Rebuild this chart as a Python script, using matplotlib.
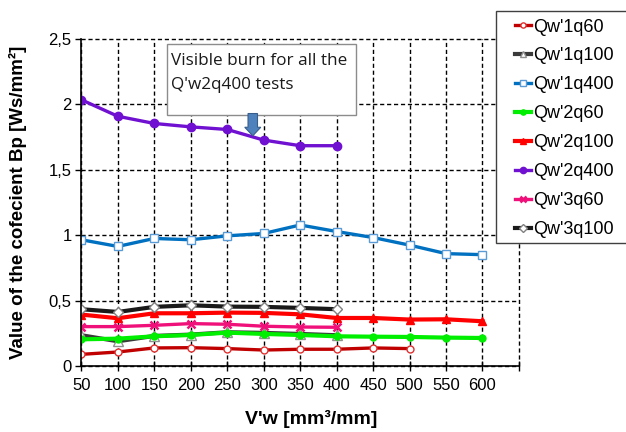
# plot.py
# coefficient Bp vs specific material removal V'w, recreated with matplotlib

from matplotlib import pyplot as plt
from matplotlib.patches import Rectangle, FancyArrow

plt.rcParams['font.family'] = ['Liberation Sans', 'DejaVu Sans']

### data
vw = [50, 100, 150, 200, 250, 300, 350, 400, 450, 500, 550, 600]

qw1q60 = [0.089, 0.107, 0.138, 0.140, 0.133, 0.122, 0.128, 0.128, 0.138, 0.133]
qw1q100 = [0.235, 0.189, 0.230, 0.240, 0.258, 0.253, 0.245, 0.235]
qw1q400 = [0.965, 0.914, 0.975, 0.965, 0.995, 1.013, 1.078, 1.028, 0.982, 0.924, 0.859, 0.851]
qw2q60 = [0.204, 0.209, 0.227, 0.237, 0.255, 0.245, 0.237, 0.227, 0.224, 0.222, 0.217, 0.214]
qw2q100 = [0.393, 0.365, 0.403, 0.403, 0.408, 0.406, 0.395, 0.367, 0.367, 0.355, 0.357, 0.342]
qw2q400 = [2.035, 1.909, 1.854, 1.828, 1.808, 1.727, 1.684, 1.684]
qw3q60 = [0.301, 0.301, 0.311, 0.324, 0.319, 0.304, 0.298, 0.296]
qw3q100 = [0.434, 0.413, 0.452, 0.464, 0.454, 0.452, 0.444, 0.434]

x_ticks = [50, 100, 150, 200, 250, 300, 350, 400, 450, 500, 550, 600, 650]
x_tick_labels = ["50", "100", "150", "200", "250", "300", "350", "400", "450", "500", "550", "600", ""]
y_ticks = [0, 0.5, 1, 1.5, 2, 2.5]
y_tick_labels = ["0", "0,5", "1", "1,5", "2", "2,5"]

note = "Visible burn for all the\nQ'w2q400 tests"

### figure
fig = plt.figure(figsize=(6.26, 4.32), dpi=100)
ax = fig.add_axes([0.130, 0.1528, 0.699, 0.757])

lw = 2.4
ax.plot(vw[:len(qw1q60)], qw1q60, color="#C00000", lw=lw, marker="o", ms=5,
        mfc="white", mec="#E03030", mew=1.0, label="Qw'1q60")
ax.plot(vw[:len(qw1q100)], qw1q100, color="#3A3A3A", lw=lw + 0.6, marker="^", ms=6.5,
        mfc="white", mec="#909090", mew=1.0, label="Qw'1q100")
ax.plot(vw[:len(qw1q400)], qw1q400, color="#0070C0", lw=lw, marker="s", ms=5.5,
        mfc="white", mec="#5B9BD5", mew=1.0, label="Qw'1q400")
ax.plot(vw[:len(qw2q60)], qw2q60, color="#00EE00", lw=lw + 0.6, marker="o", ms=5,
        mfc="#00EE00", mec="#00EE00", label="Qw'2q60")
ax.plot(vw[:len(qw2q100)], qw2q100, color="#FF0000", lw=lw + 0.6, marker="^", ms=5.5,
        mfc="#FF0000", mec="#FF0000", label="Qw'2q100")
ax.plot(vw[:len(qw2q400)], qw2q400, color="#7010D0", lw=lw, marker="o", ms=6,
        mfc="#7010D0", mec="#7010D0", label="Qw'2q400")
ax.plot(vw[:len(qw3q60)], qw3q60, color="#F0107A", lw=lw, marker="x", ms=6,
        mec="#F0107A", mew=1.8, label="Qw'3q60")
ax.plot(vw[:len(qw3q100)], qw3q100, color="#1A1A1A", lw=lw + 0.6, marker="D", ms=5,
        mfc="white", mec="#808080", mew=1.0, label="Qw'3q100")

# axes styling
ax.set_xlim(50, 650)
ax.set_ylim(0, 2.5)
ax.set_xticks(x_ticks)
ax.set_xticklabels(x_tick_labels)
ax.set_yticks(y_ticks)
ax.set_yticklabels(y_tick_labels)
ax.tick_params(axis="x", direction="inout", length=7, width=1, labelsize=12, pad=5)
ax.tick_params(axis="y", direction="out", length=4, width=1, labelsize=12, pad=3)
ax.grid(True, color="black", linestyle=(0, (3, 2)), lw=1.0)
ax.set_axisbelow(True)
# grid lines at the plot edges (650 and 2,5) should not be cut in half
for gl in ax.get_xgridlines() + ax.get_ygridlines():
    gl.set_clip_on(False)
for side in ["top", "right"]:
    ax.spines[side].set_visible(False)
for side in ["left", "bottom"]:
    ax.spines[side].set_linewidth(1.2)

ax.set_xlabel("V'w [mm³/mm]", fontsize=14, fontweight="bold")
ax.xaxis.set_label_coords(0.525, -0.133)
ax.set_ylabel("Value of the cofecient Bp [Ws/mm²]", fontsize=13.5, fontweight="bold")
ax.yaxis.set_label_coords(-0.125, 0.5)

# note box with the blue block arrow
ax.add_patch(Rectangle((167, 1.92), 260, 0.54, facecolor="white", edgecolor="#8C8C8C",
                       lw=1.0, zorder=5))
ax.text(173, 2.39, note, fontsize=12.3, family=["Open Sans", "DejaVu Sans"],
        va="top", ha="left", linespacing=1.6, color="#1A1A1A", zorder=6)
ax.add_patch(FancyArrow(285, 1.93, 0, -0.17, width=13, head_width=22, head_length=0.065,
                        length_includes_head=True, facecolor="#4F81BD", edgecolor="#385D8A",
                        lw=0.8, zorder=6))

# legend frame runs off the right edge, so draw it as its own box
fig.patches.append(Rectangle((0.7923, 0.4375), 0.25, 0.537, transform=fig.transFigure,
                             facecolor="white", edgecolor="#404040", lw=1.0, zorder=1))
leg = fig.legend(loc="upper left", bbox_to_anchor=(0.8227, 0.957), frameon=False,
                 fontsize=13, handlelength=0.9, handletextpad=0.1, labelspacing=0.66,
                 borderaxespad=0, borderpad=0, markerscale=0.75)
leg.set_zorder(2)

fig.savefig("out.png", dpi=100)
